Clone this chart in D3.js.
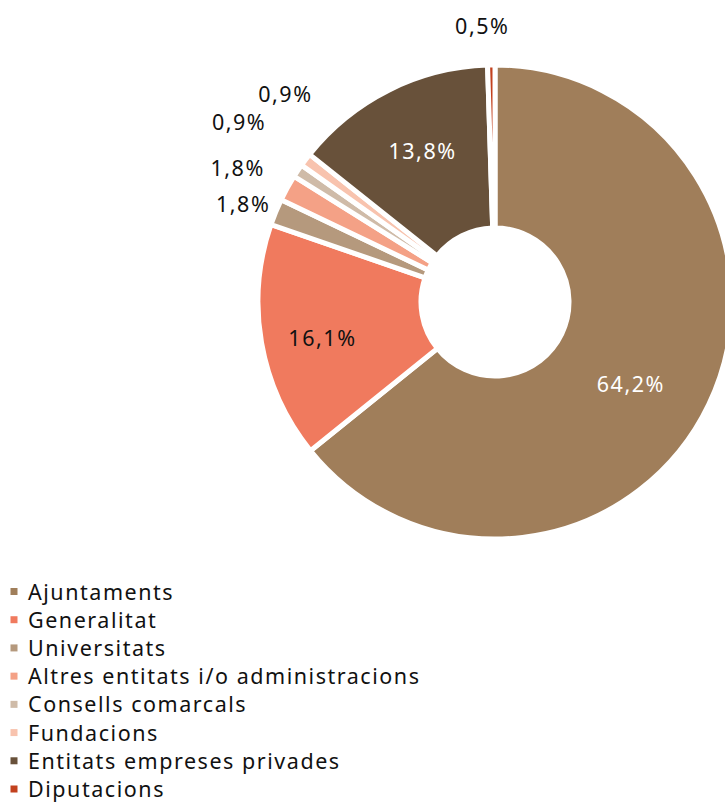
<!DOCTYPE html>
<html>
<head>
<meta charset="utf-8">
<script src="https://cdn.jsdelivr.net/npm/d3@7"></script>
<style>
  html, body { margin: 0; padding: 0; background: #fff; }
  svg { display: block; }
  text { font-family: "Noto Sans", "Open Sans", sans-serif; }
</style>
</head>
<body>
<svg id="chart" width="725" height="803"></svg>
<script>
// ---- data ----
const categories = [
  "Ajuntaments",
  "Generalitat",
  "Universitats",
  "Altres entitats i/o administracions",
  "Consells comarcals",
  "Fundacions",
  "Entitats empreses privades",
  "Diputacions"
];
const values = [64.2, 16.1, 1.8, 1.8, 0.9, 0.9, 13.8, 0.5];
const valueLabels = ["64,2%", "16,1%", "1,8%", "1,8%", "0,9%", "0,9%", "13,8%", "0,5%"];
const colors = ["#A07E5A", "#F07A5E", "#B5997D", "#F4A186", "#CFBBA8", "#F8C3AE", "#68513A", "#C2411E"];

// ---- layout (not data) ----
const cx = 495, cy = 302, outerR = 237, innerR = 74;
const fontSize = 21.5;
const longestLegendWidth = 391; // target rendered width of longest legend entry
// label placement: radius from centre and angle shift (degrees) from slice mid-angle
const labelRadius = [158, 177, 271, 291, 314, 296, 168, 277];
const labelShift  = [5.7, -1.8, -1.1, -1.3, 1.5, 7.8, 0.8, -1.9];
const labelFill   = ["#fff", "#111", "#111", "#111", "#111", "#111", "#fff", "#111"];

const svg = d3.select("#chart");
const data = categories.map((c, i) => ({ cat: c, value: values[i], label: valueLabels[i], i }));

// compute letter-spacing so the font's width matches the reference's wider typeface
const probe = svg.append("text").attr("font-size", fontSize).text(categories[3]);
const natural = probe.node().getComputedTextLength();
probe.remove();
const nChars = categories[3].length;
const spacing = Math.max(0, (longestLegendWidth - natural) / (nChars - 1));

const pie = d3.pie().value(d => d.value).sort(null).startAngle(0).endAngle(2 * Math.PI);
const arc = d3.arc().innerRadius(innerR).outerRadius(outerR);
const color = d3.scaleOrdinal().domain(categories).range(colors);

const g = svg.append("g").attr("transform", `translate(${cx},${cy})`);
const arcs = pie(data);

g.selectAll("path.slice")
  .data(arcs)
  .join("path")
  .attr("class", "slice")
  .attr("d", arc)
  .attr("fill", d => color(d.data.cat))
  .attr("stroke", "#fff")
  .attr("stroke-width", 5)
  .attr("stroke-linejoin", "miter");

g.selectAll("text.val")
  .data(arcs)
  .join("text")
  .attr("class", "val")
  .attr("text-anchor", "middle")
  .attr("dominant-baseline", "central")
  .attr("font-size", fontSize)
  .attr("letter-spacing", spacing)
  .attr("fill", d => labelFill[d.data.i])
  .attr("x", d => {
    const a = (d.startAngle + d.endAngle) / 2 + labelShift[d.data.i] * Math.PI / 180;
    return Math.sin(a) * labelRadius[d.data.i] + spacing / 2;
  })
  .attr("y", d => {
    const a = (d.startAngle + d.endAngle) / 2 + labelShift[d.data.i] * Math.PI / 180;
    return -Math.cos(a) * labelRadius[d.data.i];
  })
  .text(d => d.data.label);

// ---- legend ----
const legendY = d3.scalePoint().domain(categories).range([591.5, 789]);
const leg = svg.append("g");
const rows = leg.selectAll("g.row").data(categories).join("g")
  .attr("class", "row")
  .attr("transform", d => `translate(0,${legendY(d)})`);
rows.append("rect")
  .attr("x", 10.5).attr("y", -3.5).attr("width", 7).attr("height", 7)
  .attr("fill", d => color(d));
rows.append("text")
  .attr("x", 28).attr("y", 8)
  .attr("font-size", fontSize)
  .attr("letter-spacing", spacing)
  .attr("fill", "#111")
  .text(d => d);
</script>
</body>
</html>
